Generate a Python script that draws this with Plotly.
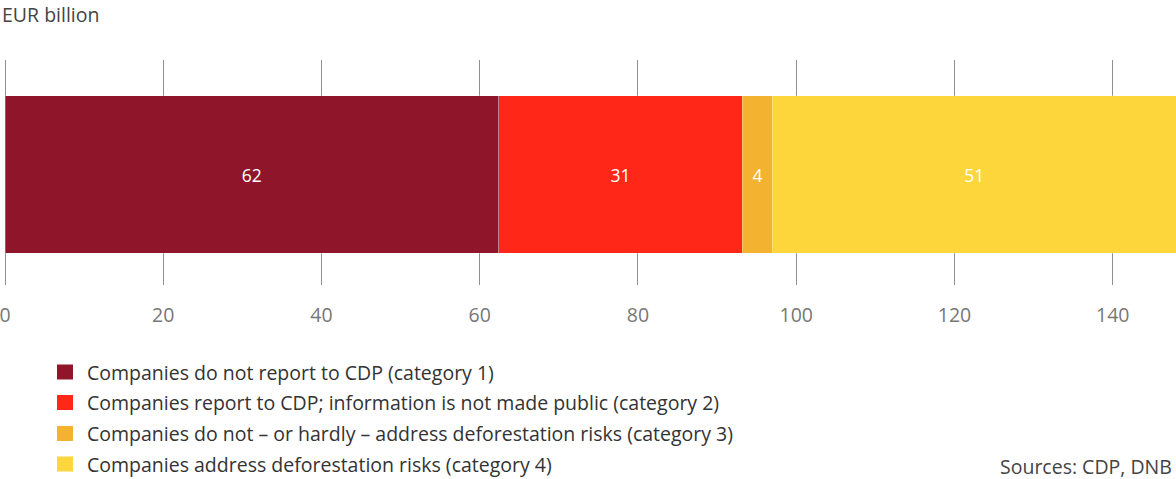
import plotly.graph_objects as go

# Financing exposure by CDP disclosure category (EUR billion)
categories = [
    "Companies do not report to CDP (category 1)",
    "Companies report to CDP; information is not made public (category 2)",
    "Companies do not \u2013 or hardly \u2013 address deforestation risks (category 3)",
    "Companies address deforestation risks (category 4)",
]
values = [62.4, 30.8, 3.8, 51.0]
colors = ["#8F152B", "#FF2818", "#F3B22F", "#FCD63A"]
tick_vals = [0, 20, 40, 60, 80, 100, 120, 140]
tick_text = ["0", "20", "40", "60", "80", "100", "120", "140"]

W, H = 1176, 479
M = dict(l=2, r=0, t=60, b=194)
FONT = "Open Sans"
plot_h = H - M["t"] - M["b"]
plot_w = W - M["l"] - M["r"]


def px_x(x):
    return (x - M["l"]) / plot_w


def px_y(y):
    return (H - M["b"] - y) / plot_h


fig = go.Figure()
for name, val, col in zip(categories, values, colors):
    fig.add_trace(go.Bar(
        y=["total"], x=[val], name=name, orientation="h",
        marker=dict(color=col, line=dict(color="rgba(255,255,255,0.45)", width=0.6)),
        text=[val], texttemplate="%{x:.0f}", textposition="inside",
        insidetextanchor="middle",
        textfont=dict(family=FONT, size=17.5, color="white"),
        showlegend=False, hoverinfo="skip",
    ))

shapes = []
annotations = []
# custom legend rows
row_y = [372, 402.5, 433.5, 464]
for name, col, ry in zip(categories, colors, row_y):
    shapes.append(dict(
        type="rect", xref="paper", yref="paper",
        x0=px_x(57), x1=px_x(73), y0=px_y(ry + 7.5), y1=px_y(ry - 7.5),
        fillcolor=col, line=dict(width=0),
    ))
    annotations.append(dict(
        text=name, xref="paper", yref="paper", x=px_x(85), y=px_y(ry),
        xanchor="left", yanchor="middle", showarrow=False,
        font=dict(family=FONT, size=19.5, color="#333333"),
    ))

annotations.append(dict(
    text="EUR billion", xref="paper", yref="paper", x=px_x(0), y=px_y(14),
    xanchor="left", yanchor="middle", showarrow=False,
    font=dict(family=FONT, size=19.5, color="#444444"),
))
annotations.append(dict(
    text="Sources: CDP, DNB", xref="paper", yref="paper", x=px_x(1174), y=px_y(466),
    xanchor="right", yanchor="middle", showarrow=False,
    font=dict(family=FONT, size=19.5, color="#444444"),
))

fig.update_layout(
    width=W, height=H, margin=M,
    barmode="stack", bargap=0.3,
    paper_bgcolor="white", plot_bgcolor="white",
    shapes=shapes, annotations=annotations,
    xaxis=dict(
        range=[-0.38, 148], tickvals=tick_vals, ticktext=tick_text,
        showgrid=True, gridcolor="#8f8f8f", gridwidth=1.2,
        zeroline=False, showline=False,
        ticks="outside", ticklen=13, tickcolor="rgba(0,0,0,0)",
        tickfont=dict(family=FONT, size=19.5, color="#777777"),
        ticklabeloverflow="allow",
        fixedrange=True,
    ),
    yaxis=dict(
        range=[-0.491, 0.509], showticklabels=False, showgrid=False,
        zeroline=False, showline=False, fixedrange=True,
    ),
    font=dict(family=FONT),
)

fig.write_html("out.html", config={"displayModeBar": False})
